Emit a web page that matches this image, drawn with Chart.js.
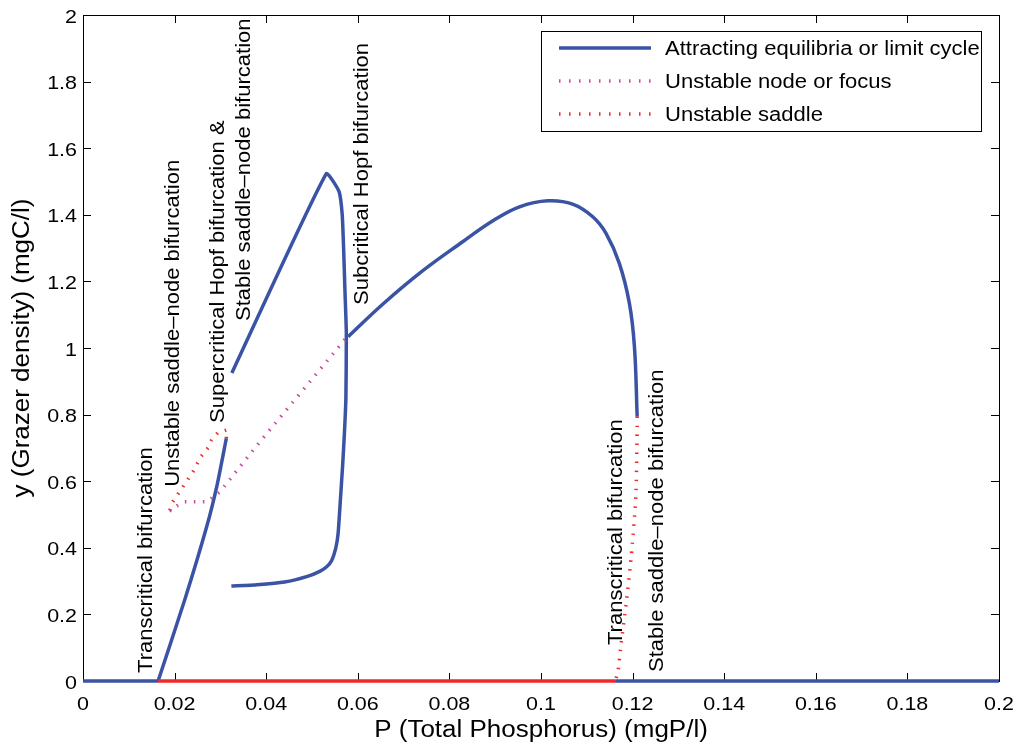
<!DOCTYPE html>
<html>
<head>
<meta charset="utf-8">
<script src="https://cdn.jsdelivr.net/npm/chart.js@4.4.1/dist/chart.umd.min.js"></script>
<style>
  html, body { margin: 0; padding: 0; background: #fff; }
  #wrap { width: 1016px; height: 745px; }
</style>
</head>
<body>
<div id="wrap"><canvas id="myChart" width="1016" height="745"></canvas></div>
<script>
// values
const xTicks = [0, 0.02, 0.04, 0.06, 0.08, 0.1, 0.12, 0.14, 0.16, 0.18, 0.2];
const xTickLabels = ['0', '0.02', '0.04', '0.06', '0.08', '0.1', '0.12', '0.14', '0.16', '0.18', '0.2'];
const yTicks = [0, 0.2, 0.4, 0.6, 0.8, 1, 1.2, 1.4, 1.6, 1.8, 2];
const yTickLabels = ['0', '0.2', '0.4', '0.6', '0.8', '1', '1.2', '1.4', '1.6', '1.8', '2'];

const trivLeftP = [0, 0.0164];
const trivLeftY = [0, 0];
const trivSaddleP = [0.0164, 0.1162];
const trivSaddleY = [0, 0];
const trivRightP = [0.1162, 0.2];
const trivRightY = [0, 0];

const lowStableP = [0.0164, 0.0222, 0.027, 0.0293, 0.0313];
const lowStableY = [0, 0.243, 0.463, 0.59, 0.729];

const leftSaddleP = [0.0313, 0.0314, 0.0294, 0.0281, 0.0273, 0.0257, 0.024, 0.0218, 0.0196, 0.0189];
const leftSaddleY = [0.729, 0.754, 0.745, 0.724, 0.7, 0.673, 0.628, 0.583, 0.538, 0.51];

const focusP = [0.0189, 0.0205, 0.0222, 0.027, 0.0299, 0.0386, 0.0571, 0.0579];
const focusY = [0.51, 0.526, 0.538, 0.538, 0.568, 0.718, 1.024, 1.034];

const cycleP = [0.0325, 0.0531, 0.0559, 0.0566, 0.0569, 0.0572, 0.0575, 0.0574, 0.0571, 0.0567,
  0.0562, 0.0557, 0.0552, 0.0543, 0.0532, 0.0518, 0.049, 0.044, 0.038, 0.0324];
const cycleY = [0.925, 1.523, 1.47, 1.4, 1.3, 1.17, 1.044, 0.85, 0.75, 0.65,
  0.544, 0.443, 0.4, 0.362, 0.343, 0.33, 0.314, 0.297, 0.289, 0.285];

const hopfP = [0.0579, 0.0655, 0.0742, 0.0829, 0.0895, 0.0953, 0.1015, 0.1069, 0.1113, 0.1142,
  0.1171, 0.1193, 0.1204, 0.121];
const hopfY = [1.034, 1.132, 1.232, 1.319, 1.382, 1.424, 1.442, 1.432, 1.394, 1.344,
  1.254, 1.134, 1.004, 0.794];

const rightSaddleP = [0.121, 0.121, 0.1207, 0.1197, 0.1186, 0.1175, 0.1168, 0.1162];
const rightSaddleY = [0.794, 0.754, 0.553, 0.373, 0.233, 0.113, 0.028, 0];

const noteText = ['Transcritical bifurcation', 'Unstable saddle\u2013node bifurcation',
  'Supercritical Hopf bifurcation &', 'Stable saddle\u2013node bifurcation',
  'Subcritical Hopf bifurcation', 'Transcritical bifurcation', 'Stable saddle\u2013node bifurcation'];
const noteP = [0.01505, 0.02094, 0.03075, 0.03642, 0.06216, 0.11778, 0.12672];
const noteY = [0.024, 0.583, 0.775, 1.081, 1.129, 0.108, 0.027];

const legendLabels = ['Attracting equilibria or limit cycle', 'Unstable node or focus', 'Unstable saddle'];

const BLUE = '#3a53a4';
const PINK = '#c8479f';
const RED = '#ee2b2b';
const FONT = '"Liberation Sans", Arial, sans-serif';
const SX = 1.13;

function pts(ps, ys) {
  return ps.map((p, i) => ({ x: p, y: ys[i] }));
}

function solid(ps, ys, color, tension) {
  return {
    data: pts(ps, ys), borderColor: color, borderWidth: 3.5, showLine: true,
    pointRadius: 0, tension: tension || 0, clip: 5, borderJoinStyle: 'round',
  };
}

function dotted(ps, ys, color, tension) {
  return {
    data: pts(ps, ys), borderColor: color, borderWidth: 3.5, showLine: true,
    pointRadius: 0, tension: tension || 0, clip: 5, borderDash: [1.5, 7.5], borderCapStyle: 'butt',
  };
}

function txt(ctx, s, x, y, size, align, rot) {
  ctx.save();
  ctx.translate(x, y);
  if (rot) ctx.rotate(-Math.PI / 2);
  ctx.scale(SX, 1);
  ctx.font = size + 'px ' + FONT;
  ctx.fillStyle = '#000';
  ctx.textAlign = align;
  ctx.textBaseline = 'alphabetic';
  ctx.fillText(s, 0, 0);
  ctx.restore();
}

const axesPlugin = {
  id: 'axesPlugin',
  beforeDatasetsDraw(chart) {
    const { ctx, chartArea: a, scales } = chart;
    ctx.save();
    ctx.strokeStyle = '#000';
    ctx.lineWidth = 1;
    ctx.strokeRect(a.left + 0.5, a.top + 0.5, a.right - a.left, a.bottom - a.top);
    ctx.beginPath();
    xTicks.forEach((v) => {
      const px = Math.round(scales.x.getPixelForValue(v)) + 0.5;
      ctx.moveTo(px, a.bottom); ctx.lineTo(px, a.bottom - 8);
      ctx.moveTo(px, a.top); ctx.lineTo(px, a.top + 8);
    });
    yTicks.forEach((v) => {
      const py = Math.round(scales.y.getPixelForValue(v)) + 0.5;
      ctx.moveTo(a.left, py); ctx.lineTo(a.left + 8, py);
      ctx.moveTo(a.right, py); ctx.lineTo(a.right - 8, py);
    });
    ctx.stroke();
    ctx.restore();
  },
  afterDraw(chart) {
    const { ctx, chartArea: a, scales } = chart;
    xTicks.forEach((v, i) => {
      txt(ctx, xTickLabels[i], scales.x.getPixelForValue(v), a.bottom + 29, 19, 'center');
    });
    yTicks.forEach((v, i) => {
      txt(ctx, yTickLabels[i], a.left - 6, scales.y.getPixelForValue(v) + 7.5, 19, 'right');
    });
    txt(ctx, 'P (Total Phosphorus) (mgP/l)', (a.left + a.right) / 2, 737, 23, 'center');
    txt(ctx, 'y (Grazer density) (mgC/l)', 29, (a.top + a.bottom) / 2, 23, 'center', true);

    noteText.forEach((s, i) => {
      txt(ctx, s, scales.x.getPixelForValue(noteP[i]), scales.y.getPixelForValue(noteY[i]), 19.5, 'left', true);
    });

    // legend box
    ctx.save();
    ctx.fillStyle = '#fff';
    ctx.fillRect(541, 31, 440, 100);
    ctx.strokeStyle = '#000';
    ctx.lineWidth = 1;
    ctx.strokeRect(541.5, 31.5, 440, 100);
    const rows = [48, 81, 114];
    const cols = [BLUE, PINK, RED];
    rows.forEach((ry, i) => {
      ctx.beginPath();
      ctx.strokeStyle = cols[i];
      ctx.lineWidth = 3.5;
      ctx.lineCap = 'butt';
      ctx.setLineDash(i === 0 ? [] : [1.5, 8.5]);
      ctx.moveTo(559, ry); ctx.lineTo(651, ry);
      ctx.stroke();
      txt(ctx, legendLabels[i], 665, ry + 7, 19.5, 'left');
    });
    ctx.restore();
  },
};

const ctx = document.getElementById('myChart').getContext('2d');
const myChart = new Chart(ctx, {
  type: 'scatter',
  data: {
    datasets: [
      dotted(focusP, focusY, PINK),
      dotted(leftSaddleP, leftSaddleY, RED),
      dotted(rightSaddleP, rightSaddleY, RED, 0.2),
      solid(trivSaddleP, trivSaddleY, RED),
      solid(trivLeftP, trivLeftY, BLUE),
      solid(trivRightP, trivRightY, BLUE),
      solid(lowStableP, lowStableY, BLUE, 0.2),
      solid(cycleP, cycleY, BLUE, 0.15),
      solid(hopfP, hopfY, BLUE, 0.4),
    ],
  },
  options: {
    responsive: false,
    animation: false,
    layout: { padding: { left: 83, right: 17, top: 15, bottom: 64 } },
    plugins: { legend: { display: false }, tooltip: { enabled: false } },
    scales: {
      x: { type: 'linear', min: 0, max: 0.2, display: false },
      y: { type: 'linear', min: 0, max: 2, display: false },
    },
  },
  plugins: [axesPlugin],
});
</script>
</body>
</html>
